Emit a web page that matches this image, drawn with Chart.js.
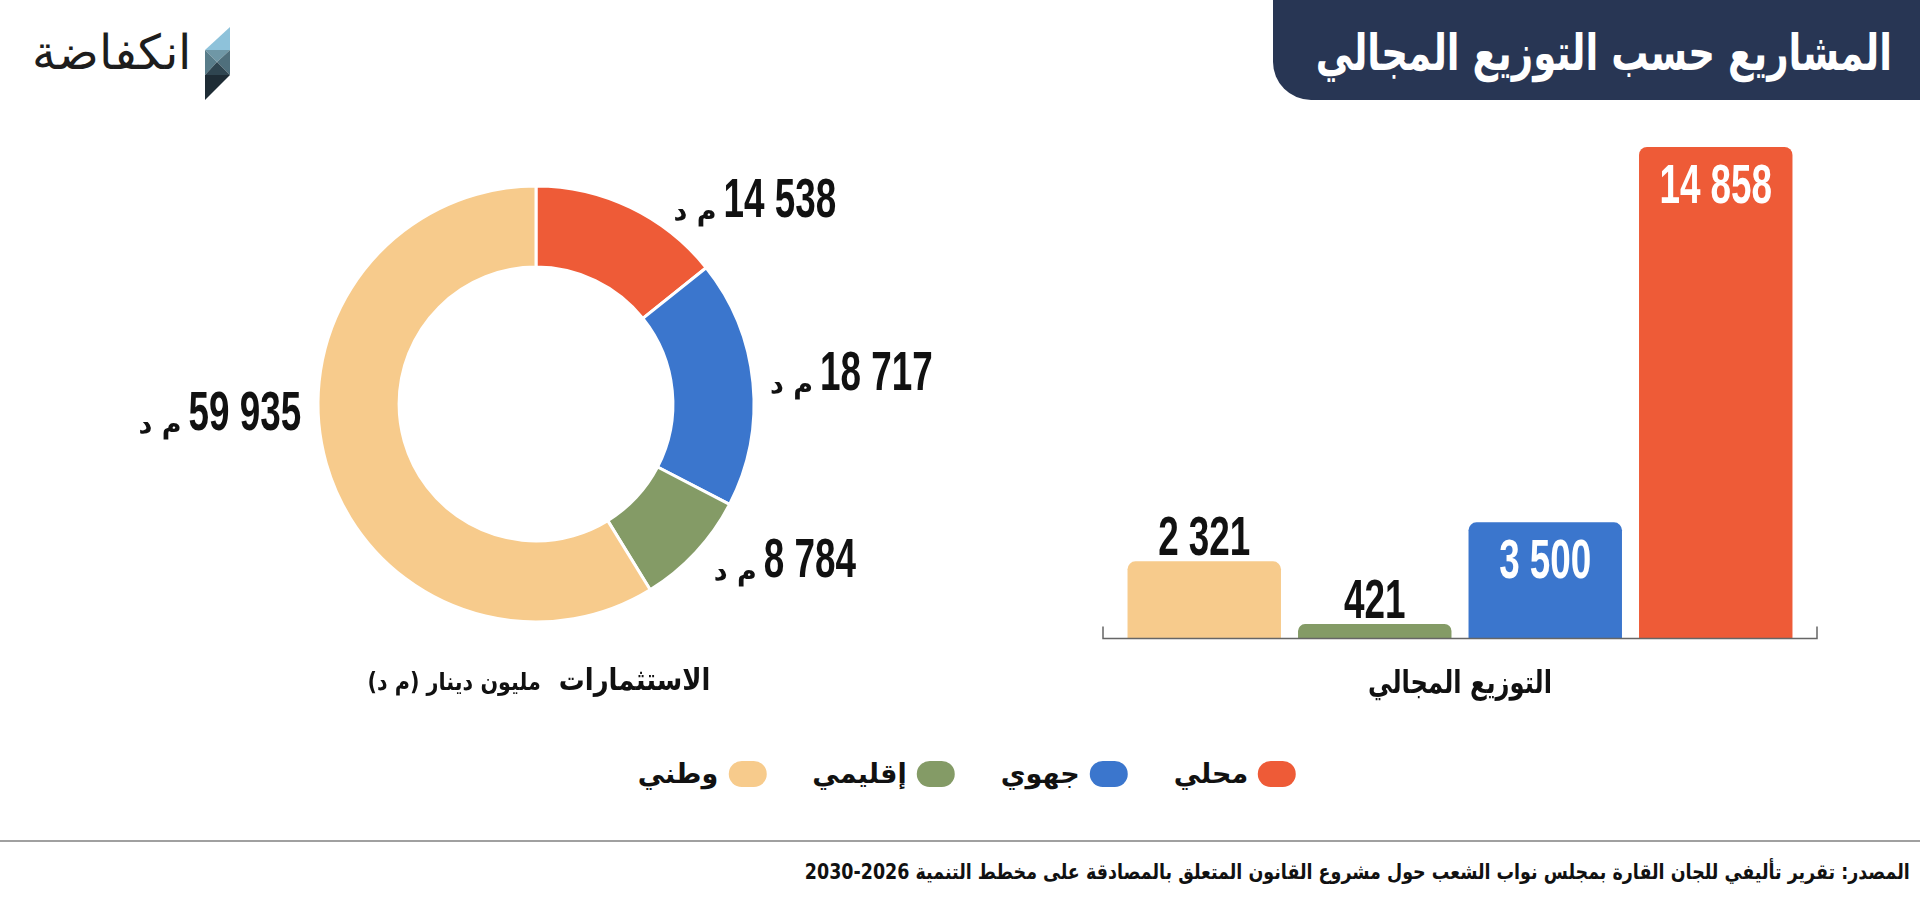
<!DOCTYPE html>
<html lang="ar">
<head>
<meta charset="utf-8">
<title>المشاريع حسب التوزيع المجالي</title>
<script src="https://cdn.jsdelivr.net/npm/chart.js@4.4.1/dist/chart.umd.min.js"></script>
<style>
  html, body { margin: 0; padding: 0; background: #fff; }
  body { width: 1920px; height: 900px; position: relative; overflow: hidden; font-family: "DejaVu Sans", sans-serif; color: #111; }
  .fit { display: inline-block; white-space: nowrap; }
  .title-box { position: absolute; top: 0; right: 0; width: 647px; height: 100px; background: #283654; border-bottom-left-radius: 38px; }
  .title-box .fit { position: absolute; right: 28px; top: 23px; color: #fff; font-size: 50px; line-height: 60px; font-weight: bold; transform-origin: right center; }
  .logo-text { position: absolute; left: 32px; top: 24px; font-size: 48px; font-weight: 300; color: #1d1d1d; white-space: nowrap; }
  .logo-icon { position: absolute; left: 202px; top: 24px; }
  #donutBox { position: absolute; left: 36px; top: 104px; }
  #barBox { position: absolute; left: 1080px; top: 120px; }
  .caption { position: absolute; font-weight: bold; white-space: nowrap; }
  #capDonut { right: 1210px; top: 662px; font-size: 30px; transform-origin: right center; }
  #capDonut span { font-size: 24px; }
  #capBar { left: 1260px; width: 400px; text-align: center; top: 664px; font-size: 31px; }
  #capBar .fit { transform-origin: center center; }
  #legend { position: absolute; left: 967px; top: 758px; transform: translateX(-50%); display: flex; direction: rtl; align-items: center; white-space: nowrap; }
  .item { display: flex; align-items: center; margin-left: 46px; font-size: 27px; font-weight: bold; }
  .item:last-child { margin-left: 0; }
  .swatch { width: 38px; height: 26px; border-radius: 13px; margin-left: 10px; }
  .rule { position: absolute; left: 0; top: 840px; width: 1920px; height: 2px; background: #a0a0a0; }
  .source { position: absolute; right: 10px; top: 860px; direction: rtl; font-size: 21px; font-weight: bold; transform-origin: right center; }
</style>
</head>
<body>

<svg class="logo-icon" width="30" height="78" viewBox="202 24 30 78">
  <polygon points="230,27 230,50 205,50" fill="#8ec2da"/>
  <polygon points="205,50 230,50 217,62" fill="#6f97a6"/>
  <polygon points="205,50 217,62 205,75" fill="#587c89"/>
  <polygon points="230,50 230,75 217,62" fill="#4f6f7c"/>
  <polygon points="205,75 217,62 230,75" fill="#2f4550"/>
  <polygon points="205,75 230,75 205,100" fill="#1e2c35"/>
</svg>
<div class="logo-text">انكفاضة</div>

<div class="title-box"><span class="fit" dir="rtl" data-w="576">المشاريع حسب التوزيع المجالي</span></div>

<div id="donutBox"><canvas id="donutChart" width="1000" height="600"></canvas></div>
<div id="barBox"><canvas id="barChart" width="760" height="560"></canvas></div>

<div class="caption fit" id="capDonut" dir="rtl" data-w="343">الاستثمارات&nbsp; <span>مليون دينار (م د)</span></div>
<div class="caption" id="capBar"><span class="fit" dir="rtl" data-w="184">التوزيع المجالي</span></div>

<div id="legend"></div>

<div class="rule"></div>
<div class="source fit" data-w="1105">المصدر: تقرير تأليفي للجان القارة بمجلس نواب الشعب حول مشروع القانون المتعلق بالمصادقة على مخطط التنمية 2026-2030</div>

<script>
// categories, right-to-left as in the legend
const categories = ['محلي', 'جهوي', 'إقليمي', 'وطني'];
// investments, million dinars (م د)
const investments = [14538, 18717, 8784, 59935];
// number of projects
const projects = [14858, 3500, 421, 2321];
const unitLabel = 'م د';

const palette = ['#ee5b37', '#3b76cd', '#849b66', '#f7cb8c'];

const fmt = (v) => String(v).replace(/\B(?=(\d{3})+(?!\d))/g, ' ');

// condensed bold digits, stretched to the reference width
const numFont = 'bold 55px "Liberation Sans Narrow", "Liberation Sans", sans-serif';
const numScale = (ctx) => {
    ctx.font = numFont;
    return 20.5 / ctx.measureText('0').width;
};
const numWidth = (ctx, text) => {
    const sx = numScale(ctx);
    return ctx.measureText(text).width * sx;
};
const drawNumber = (ctx, text, x, y, align) => {
    const sx = numScale(ctx);
    const w = ctx.measureText(text).width * sx;
    let left = x;
    if (align === 'center') left = x - w / 2;
    if (align === 'right') left = x - w;
    ctx.save();
    ctx.translate(left, y);
    ctx.scale(sx, 1);
    ctx.textAlign = 'left';
    ctx.fillText(text, 0, 0);
    ctx.restore();
    return w;
};

// labels beside each ring segment: number + unit
const donutLabels = {
    id: 'donutLabels',
    afterDatasetsDraw(chart, args, opts) {
        const ctx = chart.ctx;
        const meta = chart.getDatasetMeta(0);
        meta.data.forEach((arc, i) => {
            const p = arc.getProps(['x', 'y', 'startAngle', 'endAngle', 'outerRadius']);
            const mid = (p.startAngle + p.endAngle) / 2;
            const ax = p.x + Math.cos(mid) * p.outerRadius + opts.offsets[i][0];
            const ay = p.y + Math.sin(mid) * p.outerRadius + opts.offsets[i][1];
            const text = fmt(chart.data.datasets[0].data[i]);
            const unitFont = 'bold 27px "DejaVu Sans", sans-serif';
            ctx.save();
            ctx.fillStyle = '#111';
            ctx.textBaseline = 'alphabetic';
            ctx.font = unitFont;
            const mdW = ctx.measureText(unitLabel).width;
            const nW = numWidth(ctx, text);
            const blockW = mdW + 7 + nW;
            const left = Math.cos(mid) >= 0 ? ax : ax - blockW;
            const base = ay + 20;
            ctx.font = unitFont;
            ctx.textAlign = 'left';
            ctx.fillText(unitLabel, left, base + 3);
            drawNumber(ctx, text, left + mdW + 7, base, 'left');
            ctx.restore();
        });
    }
};

// value labels on the bars, inside when the bar is tall
const barLabels = {
    id: 'barLabels',
    afterDatasetsDraw(chart) {
        const ctx = chart.ctx;
        const meta = chart.getDatasetMeta(0);
        meta.data.forEach((bar, i) => {
            const v = chart.data.datasets[0].data[i];
            const h = bar.base - bar.y;
            ctx.save();
            ctx.textBaseline = 'alphabetic';
            if (h > 90) {
                ctx.fillStyle = '#fff';
                drawNumber(ctx, fmt(v), bar.x, bar.y + 56, 'center');
            } else {
                ctx.fillStyle = '#111';
                drawNumber(ctx, fmt(v), bar.x, bar.y - 6, 'center');
            }
            ctx.restore();
        });
    }
};

// base line with end ticks, a bit wider than the bars
const baseLine = {
    id: 'baseLine',
    afterDatasetsDraw(chart) {
        const {ctx, chartArea} = chart;
        const l = chartArea.left - 16, r = chartArea.right + 16, y = chartArea.bottom + 0.5;
        ctx.save();
        ctx.strokeStyle = '#666';
        ctx.lineWidth = 1.5;
        ctx.beginPath();
        ctx.moveTo(l, y - 12);
        ctx.lineTo(l, y);
        ctx.lineTo(r, y);
        ctx.lineTo(r, y - 12);
        ctx.stroke();
        ctx.restore();
    }
};

window.onload = function() {
    const donutCtx = document.getElementById('donutChart').getContext('2d');
    new Chart(donutCtx, {
        type: 'doughnut',
        data: {
            labels: categories,
            datasets: [{
                data: investments,
                backgroundColor: palette,
                borderColor: '#fff',
                borderWidth: 3,
                hoverOffset: 0
            }]
        },
        options: {
            responsive: false,
            animation: false,
            events: [],
            radius: 218,
            cutout: '62.8%',
            layout: { padding: 0 },
            plugins: {
                legend: { display: false },
                tooltip: { enabled: false },
                donutLabels: { offsets: [[43, -11], [17, -13], [18, 5], [-25, -53]] }
            }
        },
        plugins: [donutLabels]
    });

    const barCtx = document.getElementById('barChart').getContext('2d');
    new Chart(barCtx, {
        type: 'bar',
        data: {
            labels: categories,
            datasets: [{
                data: projects,
                backgroundColor: palette,
                borderRadius: { topLeft: 8, topRight: 8 },
                borderSkipped: 'bottom',
                barPercentage: 0.9,
                categoryPercentage: 1.0
            }]
        },
        options: {
            responsive: false,
            animation: false,
            events: [],
            layout: { padding: { left: 39, right: 39, top: 27, bottom: 42 } },
            scales: {
                x: { display: false, reverse: true },
                y: { display: false, min: 0, max: Math.max(...projects) }
            },
            plugins: {
                legend: { display: false },
                tooltip: { enabled: false }
            }
        },
        plugins: [barLabels, baseLine]
    });

    // legend from the same categories
    const legend = document.getElementById('legend');
    categories.forEach((c, i) => {
        const item = document.createElement('div');
        item.className = 'item';
        const sw = document.createElement('span');
        sw.className = 'swatch';
        sw.style.background = palette[i];
        const t = document.createElement('span');
        t.textContent = c;
        item.appendChild(sw);
        item.appendChild(t);
        legend.appendChild(item);
    });

    // squeeze wide Arabic runs to the widths of the reference
    document.querySelectorAll('.fit[data-w]').forEach((el) => {
        const w = el.getBoundingClientRect().width;
        el.style.transform = 'scaleX(' + (Number(el.dataset.w) / w) + ')';
    });
};
</script>
</body>
</html>
